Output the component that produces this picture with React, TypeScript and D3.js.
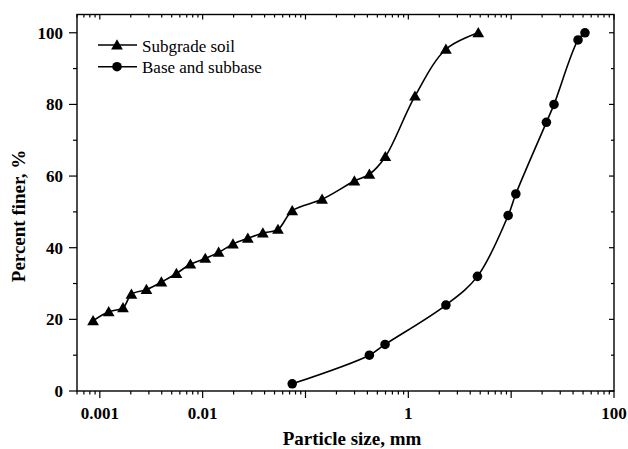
import { useEffect, useRef } from 'react';
import * as d3 from 'd3';

// grain size distribution
const subgradeSize = [0.00086, 0.00122, 0.00168, 0.00203, 0.00284, 0.00397, 0.00556, 0.0076, 0.0106, 0.0143, 0.0197, 0.0275, 0.0385, 0.054, 0.0743, 0.145, 0.299, 0.418, 0.598, 1.16, 2.32, 4.79];
const subgradeFiner = [19.6, 22.1, 23.2, 27.0, 28.3, 30.4, 32.8, 35.4, 37.0, 38.7, 41.0, 42.6, 44.1, 45.1, 50.3, 53.5, 58.6, 60.5, 65.4, 82.3, 95.4, 100];

const baseSize = [0.0743, 0.418, 0.594, 2.32, 4.7, 9.35, 11.1, 22.0, 26.1, 44.7, 52.2];
const baseFiner = [2, 10, 13, 24, 32, 49, 55, 75, 80, 98, 100];

const xLabelTicks = [0.001, 0.01, 1, 100];
const xMajorTicks = [0.001, 0.01, 0.1, 1, 10, 100];
const yMajorTicks = [0, 20, 40, 60, 80, 100];
const yMinorTicks = [10, 30, 50, 70, 90];

const seriesNames = ['Subgrade soil', 'Base and subbase'];

export default function App() {
  const svgRef = useRef<SVGSVGElement>(null);

  useEffect(() => {
    const svg = d3.select(svgRef.current);
    svg.selectAll('*').remove();

    const W = 628, H = 449;
    const left = 77, right = 614, top = 14.5, bottom = 391;
    const font = '"Liberation Serif", "Times New Roman", serif';

    const x = d3.scaleLog().domain([0.0006, 100]).range([left, right]);
    const y = d3.scaleLinear().domain([0, 105.1]).range([bottom, top]);

    svg.attr('width', W).attr('height', H);
    svg.append('rect').attr('width', W).attr('height', H).attr('fill', '#fff');

    const g = svg.append('g');

    // frame
    g.append('rect')
      .attr('x', left).attr('y', top)
      .attr('width', right - left).attr('height', bottom - top)
      .attr('fill', 'none').attr('stroke', '#000').attr('stroke-width', 1.4);

    const xMinor = x.ticks().filter(v => !xMajorTicks.some(m => Math.abs(m - v) / m < 1e-6));

    const tick = (x1: number, y1: number, x2: number, y2: number) =>
      g.append('line')
        .attr('x1', x1).attr('y1', y1).attr('x2', x2).attr('y2', y2)
        .attr('stroke', '#000').attr('stroke-width', 1.2);

    // x ticks: bottom outward, top inward
    xMajorTicks.forEach(v => {
      tick(x(v), bottom, x(v), bottom + 7);
      tick(x(v), top, x(v), top + 5);
    });
    xMinor.forEach(v => {
      tick(x(v), bottom, x(v), bottom + 3.5);
      tick(x(v), top, x(v), top + 3);
    });
    // y ticks: left outward, right inward
    yMajorTicks.forEach(v => {
      tick(left, y(v), left - 8, y(v));
      tick(right, y(v), right - 5, y(v));
    });
    yMinorTicks.forEach(v => {
      tick(left, y(v), left - 4, y(v));
      tick(right, y(v), right - 3, y(v));
    });

    // tick labels
    g.selectAll('.xl').data(xLabelTicks).enter().append('text')
      .attr('x', d => x(d)).attr('y', 419)
      .attr('text-anchor', 'middle')
      .style('font-family', font).style('font-weight', 'bold').style('font-size', '17px')
      .text(d => String(d));

    g.selectAll('.yl').data(yMajorTicks).enter().append('text')
      .attr('x', 63).attr('y', d => y(d) + 6)
      .attr('text-anchor', 'end')
      .style('font-family', font).style('font-weight', 'bold').style('font-size', '17px')
      .text(d => String(d));

    // axis titles
    g.append('text')
      .attr('x', 352).attr('y', 445)
      .attr('text-anchor', 'middle')
      .style('font-family', font).style('font-weight', 'bold').style('font-size', '19px')
      .text('Particle size, mm');

    g.append('text')
      .attr('transform', `translate(25,216) rotate(-90)`)
      .attr('text-anchor', 'middle')
      .style('font-family', font).style('font-weight', 'bold').style('font-size', '19px')
      .text('Percent finer, %');

    const line = d3.line<[number, number]>()
      .x(d => x(d[0])).y(d => y(d[1]))
      .curve(d3.curveCatmullRom.alpha(0.5));

    const subgrade: [number, number][] = subgradeSize.map((s, i) => [s, subgradeFiner[i]]);
    const base: [number, number][] = baseSize.map((s, i) => [s, baseFiner[i]]);

    const tri = d3.symbol().type(d3.symbolTriangle).size(60);
    const circ = d3.symbol().type(d3.symbolCircle).size(72);

    [subgrade, base].forEach((data, k) => {
      g.append('path')
        .attr('d', line(data))
        .attr('fill', 'none').attr('stroke', '#000').attr('stroke-width', 1.6);
      g.selectAll('.m' + k).data(data).enter().append('path')
        .attr('transform', d => `translate(${x(d[0])},${y(d[1]) + (k === 0 ? 1 : 0)})`)
        .attr('d', k === 0 ? tri() : circ())
        .attr('fill', '#000');
    });

    // legend
    seriesNames.forEach((name, k) => {
      const ly = 45 + k * 21.7;
      g.append('line')
        .attr('x1', 98).attr('x2', 137).attr('y1', ly).attr('y2', ly)
        .attr('stroke', '#000').attr('stroke-width', 1.6);
      g.append('path')
        .attr('transform', `translate(117,${ly + (k === 0 ? 1 : 0)})`)
        .attr('d', k === 0 ? tri() : circ())
        .attr('fill', '#000');
      g.append('text')
        .attr('x', 142).attr('y', ly + 6.5)
        .style('font-family', font).style('font-size', '17px')
        .text(name);
    });
  }, []);

  return (
    <div style={{ position: 'fixed', left: 0, top: 0 }}>
      <svg ref={svgRef}></svg>
    </div>
  );
}
